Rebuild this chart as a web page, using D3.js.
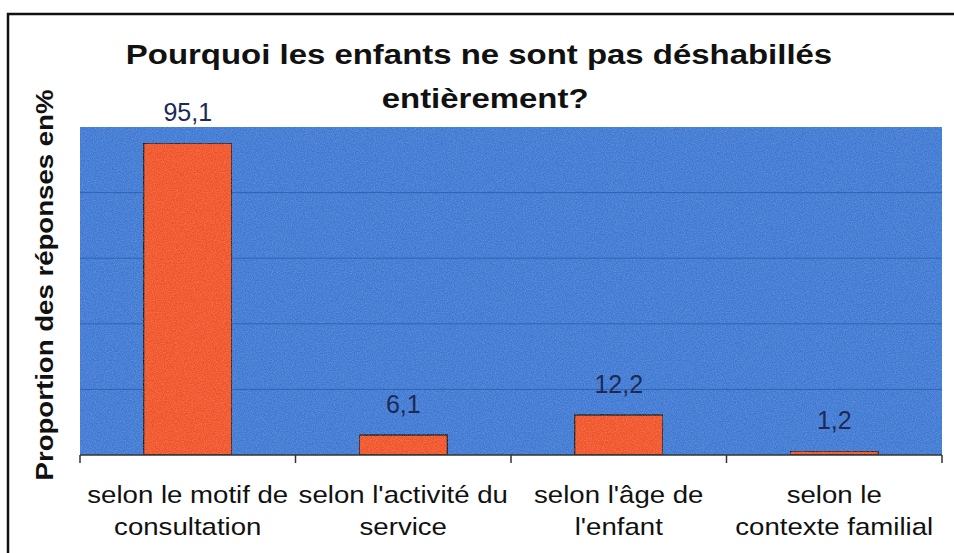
<!DOCTYPE html>
<html>
<head>
<meta charset="utf-8">
<script src="https://cdn.jsdelivr.net/npm/d3@7"></script>
<style>
  body { margin: 0; background: #fff; }
  svg { display: block; font-family: "Liberation Sans", Arial, sans-serif; }
</style>
</head>
<body>
<script>
// data
var categories = [
    ["selon le motif de", "consultation"],
    ["selon l'activité du", "service"],
    ["selon l'âge de", "l'enfant"],
    ["selon le", "contexte familial"]
];
var values = [95.1, 6.1, 12.2, 1.2];
var valueLabels = ["95,1", "6,1", "12,2", "1,2"];
var yTicks = [0, 20, 40, 60, 80, 100];

var W = 954, H = 553;
var margin = { top: 127, right: 12, bottom: 98, left: 80 },
    width = W - margin.left - margin.right,
    height = H - margin.top - margin.bottom;

var svg = d3.select("body").append("svg")
    .attr("width", W)
    .attr("height", H);

// speckle texture like the scanned original
var defs = svg.append("defs");
var f = defs.append("filter").attr("id", "grain").attr("x", 0).attr("y", 0).attr("width", 1).attr("height", 1);
f.append("feTurbulence").attr("type", "fractalNoise").attr("baseFrequency", 0.9).attr("numOctaves", 2).attr("seed", 3).attr("result", "noise");
f.append("feColorMatrix").attr("in", "noise").attr("type", "matrix")
    .attr("values", "0 0 0 0 1  0 0 0 0 1  0 0 0 0 1  0 0 0 0.18 -0.06").attr("result", "spk");
f.append("feComposite").attr("in", "spk").attr("in2", "SourceGraphic").attr("operator", "in").attr("result", "spk2");
f.append("feMerge").selectAll("feMergeNode").data(["SourceGraphic", "spk2"]).enter()
    .append("feMergeNode").attr("in", function (d) { return d; });

// outer frame (runs off the right/bottom edge in the original)
svg.append("rect")
    .attr("x", 8).attr("y", 14)
    .attr("width", W + 10).attr("height", H + 10)
    .attr("fill", "none")
    .attr("stroke", "#111")
    .attr("stroke-width", 2.5);

var g = svg.append("g")
    .attr("transform", "translate(" + margin.left + "," + margin.top + ")");

var x = d3.scaleBand()
    .domain(d3.range(categories.length))
    .range([0, width])
    .paddingInner(0.59)
    .paddingOuter(0.295);

var y = d3.scaleLinear().domain([0, 100]).range([height, 0]);

g.append("rect")
    .attr("width", width).attr("height", height)
    .attr("fill", "#3a7ad4")
    .attr("filter", "url(#grain)");

g.append("g").selectAll("line")
    .data(yTicks.slice(1, -1))
    .enter().append("line")
    .attr("x1", 0).attr("x2", width)
    .attr("y1", function (d) { return y(d); })
    .attr("y2", function (d) { return y(d); })
    .attr("stroke", "#2f64b4")
    .attr("stroke-width", 1);

g.selectAll(".bar")
    .data(values)
    .enter().append("rect")
    .attr("class", "bar")
    .attr("x", function (d, i) { return x(i); })
    .attr("y", function (d) { return y(d); })
    .attr("width", x.bandwidth())
    .attr("height", function (d) { return height - y(d); })
    .attr("fill", "#f1521f")
    .attr("stroke", "#1a1a1a")
    .attr("stroke-width", 1.5)
    .attr("filter", "url(#grain)");

g.selectAll(".val")
    .data(values)
    .enter().append("text")
    .attr("class", "val")
    .attr("transform", function (d, i) {
        return "translate(" + (x(i) + x.bandwidth() / 2) + "," + (y(d) - 22) + ")";
    })
    .attr("text-anchor", "middle")
    .attr("font-size", 25)
    .attr("fill", "#1c2a55")
    .text(function (d, i) { return valueLabels[i]; });

// category axis: ticks between categories
var step = x.step();
var xAxis = g.append("g").attr("transform", "translate(0," + height + ")");
xAxis.append("line")
    .attr("x1", 0).attr("x2", width)
    .attr("stroke", "#333").attr("stroke-width", 1.5);
xAxis.selectAll(".tk")
    .data(d3.range(categories.length + 1))
    .enter().append("line")
    .attr("class", "tk")
    .attr("x1", function (d) { return d * step; })
    .attr("x2", function (d) { return d * step; })
    .attr("y1", 0).attr("y2", 8)
    .attr("stroke", "#333").attr("stroke-width", 1.5);

var lab = xAxis.selectAll(".cat")
    .data(categories)
    .enter().append("text")
    .attr("class", "cat")
    .attr("text-anchor", "middle")
    .attr("font-size", 24)
    .attr("fill", "#111")
    .attr("transform", function (d, i) {
        return "translate(" + (x(i) + x.bandwidth() / 2) + ",0) scale(1.15,1)";
    });
lab.selectAll("tspan")
    .data(function (d) { return d; })
    .enter().append("tspan")
    .attr("x", 0)
    .attr("y", function (d, j) { return 48 + j * 32; })
    .text(function (d) { return d; });

// y axis title
svg.append("text")
    .attr("transform", "translate(53,285) rotate(-90) scale(1.15,1)")
    .attr("text-anchor", "middle")
    .attr("font-size", 24)
    .attr("font-weight", "bold")
    .attr("fill", "#111")
    .text("Proportion des réponses en%");

// title
var title = svg.append("g").attr("transform", "translate(479,0) scale(1.22,1)")
    .append("text")
    .attr("text-anchor", "middle")
    .attr("font-size", 27)
    .attr("font-weight", "bold")
    .attr("fill", "#111");
title.append("tspan").attr("x", 0).attr("y", 64).text("Pourquoi les enfants ne sont pas déshabillés");
title.append("tspan").attr("x", 5).attr("y", 108).text("entièrement?");
</script>
</body>
</html>
